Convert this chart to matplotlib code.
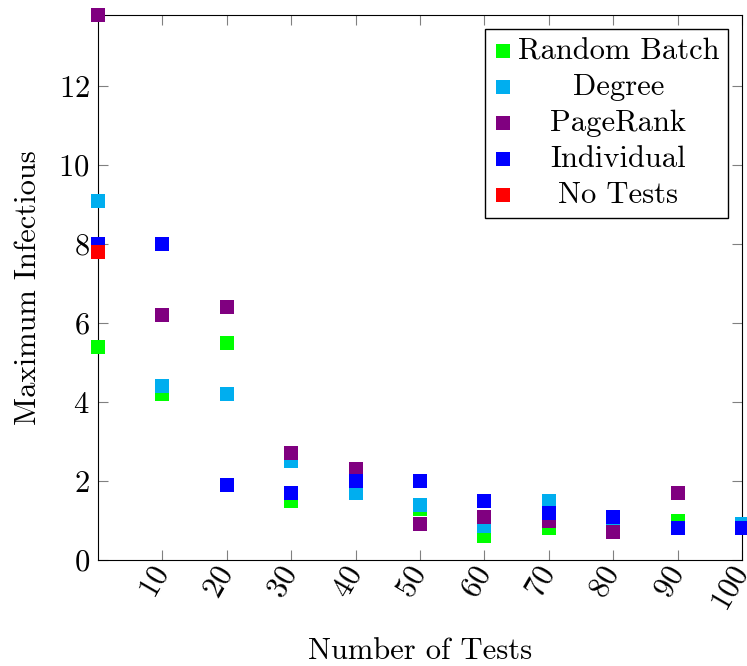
import numpy as np
import matplotlib
matplotlib.use("Agg")
import matplotlib.pyplot as plt

plt.rcParams['font.family'] = ['cmr10', 'DejaVu Serif']
plt.rcParams['mathtext.fontset'] = 'cm'
plt.rcParams['axes.formatter.use_mathtext'] = True

tests = [0, 10, 20, 30, 40, 50, 60, 70, 80, 90, 100]

random_batch = [5.4, 4.2, 5.5, 1.5, 1.8, 1.3, 0.6, 0.8, 0.8, 1.0, 0.8]
degree = [9.1, 4.4, 4.2, 2.5, 1.7, 1.4, 0.85, 1.5, 0.9, 0.8, 0.9]
pagerank = [13.8, 6.2, 6.4, 2.7, 2.3, 0.9, 1.1, 1.0, 0.7, 1.7, 0.8]
individual = [8.0, 8.0, 1.9, 1.7, 2.0, 2.0, 1.5, 1.2, 1.1, 0.8, 0.8]
no_tests_x = [0]
no_tests = [7.8]

series = [
    ("Random Batch", tests, random_batch, "#00ff00"),
    ("Degree", tests, degree, "#00aeef"),
    ("PageRank", tests, pagerank, "#800080"),
    ("Individual", tests, individual, "#0000ff"),
    ("No Tests", no_tests_x, no_tests, "#ff0000"),
]

fs = 22

fig = plt.figure(figsize=(7.47, 6.66), dpi=100)
ax = fig.add_axes([98 / 747, 106 / 666, 644 / 747, 545 / 666])

for name, xs, ys, col in series:
    ax.scatter(xs, ys, s=90, marker="s", color=col, label=name,
               clip_on=False, zorder=3, linewidths=0)

ax.set_xlim(0, 100)
ax.set_ylim(0, 13.8)
ax.set_xticks([10, 20, 30, 40, 50, 60, 70, 80, 90, 100])
ax.set_yticks([0, 2, 4, 6, 8, 10, 12])
ax.tick_params(direction="in", length=7, color="0.5", top=True, right=True,
               labelsize=fs, pad=6)
for lbl in ax.get_xticklabels():
    lbl.set_rotation(60)
    lbl.set_ha("right")
    lbl.set_rotation_mode("anchor")
    lbl.set_va("center")

ax.set_xlabel("Number of Tests", fontsize=fs, labelpad=16)
ax.set_ylabel("Maximum Infectious", fontsize=fs, labelpad=12)

leg = ax.legend(loc="upper right", fontsize=fs, frameon=True, fancybox=False,
                edgecolor="black", framealpha=1, handletextpad=0.2,
                borderaxespad=0.45, labelspacing=0.28, borderpad=0.3,
                handlelength=0.55, scatterpoints=1)
leg.get_frame().set_linewidth(1.0)

# centre the legend labels inside their column
fig.canvas.draw()
r = fig.canvas.get_renderer()
widths = [t.get_window_extent(r).width for t in leg.get_texts()]
wmax = max(widths)
for t, w in zip(leg.get_texts(), widths):
    t.set_x((wmax - w) / 2)

fig.savefig("out.png", dpi=100)
